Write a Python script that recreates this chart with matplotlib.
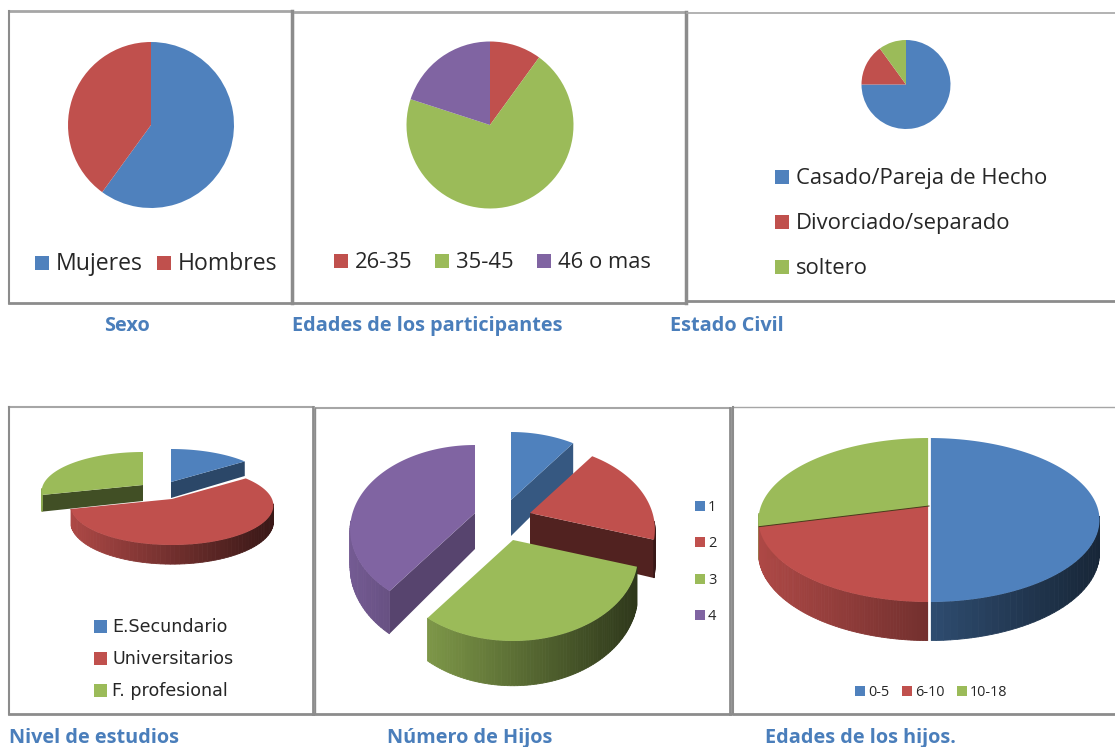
import numpy as np
import matplotlib
matplotlib.use('Agg')
import matplotlib.pyplot as plt
from matplotlib.patches import Rectangle, Polygon

plt.rcParams['font.family'] = ['Open Sans', 'DejaVu Sans']

W, H = 1115, 747

# Colores
AZUL, ROJO, VERDE, MORADO = '#4f81bd', '#c0504d', '#9bbb59', '#8064a2'
TITULO = '#4a7ebb'
TEXTO = '#262626'

# Datos
sexo_labels = ['Mujeres', 'Hombres']
sexo_vals = [60, 40]
edades_labels = ['26-35', '35-45', '46 o mas']
edades_vals = [10, 70, 20]
civil_labels = ['Casado/Pareja de Hecho', 'Divorciado/separado', 'soltero']
civil_vals = [75, 15, 10]
estudios_labels = ['E.Secundario', 'Universitarios', 'F. profesional']
estudios_vals = [15, 56, 29]
hijos_labels = ['1', '2', '3', '4']
hijos_vals = [10, 20, 30, 40]
edadhijos_labels = ['0-5', '6-10', '10-18']
edadhijos_vals = [50, 21, 29]

fig = plt.figure(figsize=(W/100, H/100), dpi=100)
ax = fig.add_axes([0, 0, 1, 1])
ax.set_xlim(0, W)
ax.set_ylim(H, 0)
ax.axis('off')


def tarta(vals, colors, cx, cy, r):
    a = fig.add_axes([(cx-r)/W, 1-(cy+r)/H, 2*r/W, 2*r/H])
    a.pie(vals, colors=colors, startangle=90, counterclock=False, radius=1)
    a.set_xlim(-1, 1)
    a.set_ylim(-1, 1)


def oscurece(color, f):
    rgb = np.array(matplotlib.colors.to_rgb(color))
    return tuple(rgb*f)


def proyecta(th, a, bt, bb):
    # circulo visto en perspectiva: th desde arriba, sentido horario
    b = 2*bt*bb/(bt+bb)
    k = (bb-bt)/(bb+bt)
    d = 1 + k*np.cos(th)
    return a*np.sin(th)/d, -b*np.cos(th)/d, d


def tarta3d(vals, colors, muros, centros, orden, a, bt, bb, prof):
    fin = np.cumsum(vals)/np.sum(vals)*2*np.pi
    ini = np.r_[0, fin[:-1]]
    for i in orden:
        cx, cy = centros[i]
        th = np.linspace(ini[i], fin[i], 90)
        x, y, d = proyecta(th, a, bt, bb)
        x, y = cx+x, cy+y
        dz = prof/d
        # muros laterales, solo los que miran al frente
        visibles = []
        if np.sin(ini[i]) < -1e-6:
            visibles.append(0)
        if np.sin(fin[i]) > 1e-6:
            visibles.append(-1)
        for j in visibles:
            pts = [(cx, cy), (x[j], y[j]), (x[j], y[j]+dz[j]), (cx, cy+prof)]
            ax.add_patch(Polygon(pts, fc=oscurece(colors[i], muros[i]), ec='none', zorder=2))
        # borde con degradado
        for j in range(len(th)-1):
            if np.cos(th[j]) < -0.1:
                f = 0.9 - 0.6*(x[j]-cx+a)/(2*a)
                col = oscurece(colors[i], f)
                pts = [(x[j], y[j]), (x[j+1], y[j+1]), (x[j+1], y[j+1]+dz[j+1]), (x[j], y[j]+dz[j])]
                ax.add_patch(Polygon(pts, fc=col, ec=col, lw=0.6, zorder=2))
        # cara superior
        pts = [(cx, cy)] + list(zip(x, y))
        ax.add_patch(Polygon(pts, fc=colors[i], ec='none', zorder=2))


def leyenda(items, size, lado, family=None):
    for (x, y, col, tx, txt) in items:
        ax.add_patch(Rectangle((x, y-lado/2), lado, lado, fc=col, ec='none', zorder=3))
        ax.text(tx, y+1.5, txt, fontsize=size, color=TEXTO, va='center', ha='left', zorder=3,
                family=family)


def marco(x0, y0, x1, y1, arriba=1.0, abajo=2.5, izq=1.0, der=2.5):
    c = '#8c8c8c'
    ax.plot([x0, x1], [y0, y0], color='#a6a6a6', lw=arriba)
    ax.plot([x0, x1], [y1, y1], color=c, lw=abajo)
    if izq:
        ax.plot([x0, x0], [y0, y1], color=c, lw=izq)
    if der:
        ax.plot([x1, x1], [y0, y1], color=c, lw=der)


# Marcos
marco(9, 11, 292, 303, arriba=2, abajo=2, izq=1.5, der=2.5)
marco(293, 12, 686, 303, arriba=2, abajo=2, izq=1.5, der=2.5)
marco(687, 13, 1116, 301, arriba=1.2, abajo=2, izq=0, der=0)
marco(9, 407, 313, 714, arriba=1.5, abajo=2, izq=1.5, der=2)
marco(315, 408, 730, 714, arriba=1.5, abajo=2, izq=1, der=2)
marco(733, 407, 1116, 714, arriba=1, abajo=2, izq=1.5, der=0)

# Tartas planas
tarta(sexo_vals, [AZUL, ROJO], 151, 125, 83)
tarta(edades_vals, [ROJO, VERDE, MORADO], 490, 125, 83.5)
tarta(civil_vals, [AZUL, ROJO, VERDE], 906, 84.5, 44.5)

# Tartas 3D
tarta3d(estudios_vals, [AZUL, ROJO, VERDE], [0.55, 0.42, 0.42],
        [(171, 482), (172, 499), (143, 485)], [0, 2, 1], 100, 33, 46, 16)
tarta3d(hijos_vals, [AZUL, ROJO, VERDE, MORADO], [0.68, 0.42, 0.42, 0.68],
        [(511, 500), (530, 513), (513, 540), (475, 513)], [0, 1, 3, 2], 122.5, 68, 101, 36)
tarta3d(edadhijos_vals, [AZUL, ROJO, VERDE], [0.4, 0.5, 0.5],
        [(929, 506)]*3, [2, 1, 0], 168, 68, 96, 32)
ax.plot([929, 929], [437, 641], color='white', lw=2, zorder=4)
fr = np.sum(edadhijos_vals[:2])/np.sum(edadhijos_vals)*2*np.pi
sx, sy, _ = proyecta(fr, 168, 68, 96)
ax.plot([929+sx, 929], [506+sy, 506], color='#4a3a1a', lw=0.7, zorder=4)

# Leyendas
leyenda([(35, 263, AZUL, 56, sexo_labels[0]), (157, 263, ROJO, 178, sexo_labels[1])], 16.6, 14)
leyenda([(334, 261, ROJO, 355, edades_labels[0]), (435, 261, VERDE, 456, edades_labels[1]),
         (537, 261, MORADO, 558, edades_labels[2])], 15.8, 14)
leyenda([(775, 177, AZUL, 796, civil_labels[0]), (775, 222, ROJO, 796, civil_labels[1]),
         (775, 267, VERDE, 796, civil_labels[2])], 15.8, 14)
leyenda([(94, 626, AZUL, 112, estudios_labels[0]), (94, 658, ROJO, 112, estudios_labels[1]),
         (94, 690, VERDE, 112, estudios_labels[2])], 12.6, 13, family='DejaVu Sans')
leyenda([(695, 506, AZUL, 708, hijos_labels[0]), (695, 542, ROJO, 708, hijos_labels[1]),
         (695, 579, VERDE, 708, hijos_labels[2]), (695, 615, MORADO, 708, hijos_labels[3])], 10.5, 10)
leyenda([(855, 691, AZUL, 868, edadhijos_labels[0]), (902, 691, ROJO, 915, edadhijos_labels[1]),
         (957, 691, VERDE, 970, edadhijos_labels[2])], 10.4, 10)

# Titulos
for x, y, txt in [(104, 326, 'Sexo'), (292, 326, 'Edades de los participantes'),
                  (670, 326, 'Estado Civil'), (9, 738, 'Nivel de estudios'),
                  (387, 738, 'Número de Hijos'), (765, 738, 'Edades de los hijos.')]:
    ax.text(x, y, txt, fontsize=14.3, fontweight='bold', color=TITULO, va='center', ha='left')

fig.savefig('out.png', dpi=100)
